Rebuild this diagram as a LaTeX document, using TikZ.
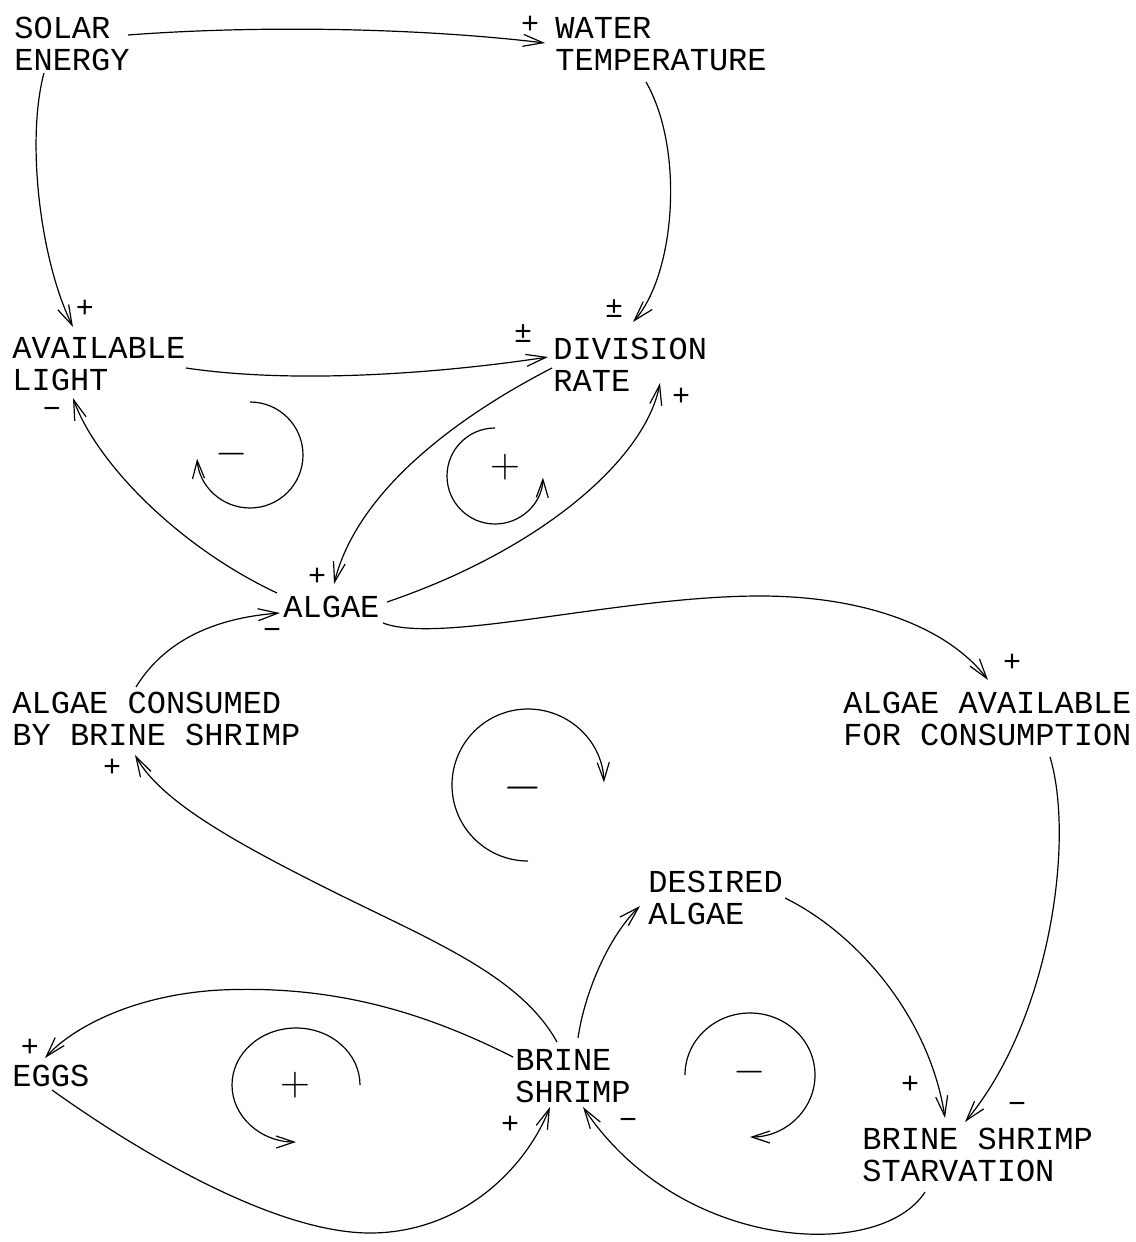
\documentclass[tikz,border=0pt]{standalone}
\usepackage{fontspec}
\usetikzlibrary{arrows.meta,calc}
\newfontfamily\plotfont{Liberation Mono}
\newcommand{\bsVarFont}{\plotfont\fontsize{16}{16}\selectfont}
\newcommand{\bsSignFont}{\plotfont\fontsize{15}{15}\selectfont}
\newcommand{\bsLoopFont}{\fontsize{22}{22}\selectfont}

\begin{document}
\begin{tikzpicture}[x=0.5pt,y=-0.5pt,
  bsvar/.style={anchor=north west, inner sep=0pt, align=left, font=\bsVarFont},
  sgn/.style={inner sep=0pt, font=\bsSignFont},
  loopsgn/.style={inner sep=0pt, font=\bsLoopFont},
  causal/.style={line width=0.6pt, -{Straight Barb[length=10pt,width=6pt]}},
  fbloop/.style={line width=0.6pt, -{Straight Barb[length=9pt,width=6pt]}}]
\useasboundingbox (0,0) rectangle (1135,1242);
\node[bsvar] (solar) at (14,17) {SOLAR\\ENERGY};
\node[bsvar] (water) at (555,17) {WATER\\TEMPERATURE};
\node[bsvar] (light) at (12,337) {AVAILABLE\\LIGHT};
\node[bsvar] (division) at (553,338) {DIVISION\\RATE};
\node[bsvar] (algae) at (283,596) {ALGAE};
\node[bsvar] (consumed) at (12,692) {ALGAE CONSUMED\\BY BRINE SHRIMP};
\node[bsvar] (available) at (843,692) {ALGAE AVAILABLE\\FOR CONSUMPTION};
\node[bsvar] (desired) at (648,871) {DESIRED\\ALGAE};
\node[bsvar] (eggs) at (12,1065) {EGGS};
\node[bsvar] (shrimp) at (515,1049) {BRINE\\SHRIMP};
\node[bsvar] (starvation) at (862,1128) {BRINE SHRIMP\\STARVATION};
\draw[causal] ($(solar.north west)+(114,18)$) .. controls (260,25) and (420,28) .. ($(water.north west)+(-10,26)$);
\draw[causal] ($(solar.north west)+(30,56)$) .. controls (26,140) and (40,260) .. ($(light.north west)+(61,-10)$);
\draw[causal] ($(water.north west)+(91,65)$) .. controls (685,150) and (675,275) .. ($(division.north west)+(80,-16)$);
\draw[causal] ($(light.north west)+(174,31)$) .. controls (300,385) and (450,372) .. ($(division.north west)+(-5,19)$);
\draw[causal] ($(division.north west)+(-1,30)$) .. controls (480,405) and (360,480) .. ($(algae.north west)+(51,-12)$);
\draw[causal] ($(algae.north west)+(104,6)$) .. controls (540,550) and (645,460) .. ($(division.north west)+(107,45)$);
\draw[causal] ($(algae.north west)+(-6,-3)$) .. controls (175,545) and (95,460) .. ($(light.north west)+(61,61)$);
\draw[causal] ($(consumed.north west)+(124,-5)$) .. controls (165,640) and (215,618) .. ($(algae.north west)+(-3,17)$);
\draw[causal] ($(algae.north west)+(100,27)$) .. controls (440,645) and (620,596) .. (760,596)
  .. controls (870,596) and (950,630) .. ($(available.north west)+(145,-12)$);
\draw[causal] ($(available.north west)+(207,65)$) .. controls (1075,840) and (1050,1020) .. ($(starvation.north west)+(103,-6)$);
\draw[causal] ($(desired.north west)+(137,27)$) .. controls (860,935) and (930,1020) .. ($(starvation.north west)+(83,-10)$);
\draw[causal] ($(shrimp.north west)+(63,-11)$) .. controls (585,990) and (610,935) .. ($(desired.north west)+(-8,35)$);
\draw[causal] ($(shrimp.north west)+(42,-7)$) .. controls (520,975) and (430,940) .. (330,890)
  .. controls (230,840) and (160,800) .. ($(consumed.north west)+(123,63)$);
\draw[causal] ($(shrimp.north west)+(-2,8)$) .. controls (420,1010) and (330,985) .. (220,990)
  .. controls (130,995) and (70,1030) .. ($(eggs.north west)+(33,-7)$);
\draw[causal] ($(eggs.north west)+(40,25)$) .. controls (150,1160) and (280,1233) .. (370,1233)
  .. controls (460,1233) and (525,1170) .. ($(shrimp.north west)+(35,58)$);
\draw[causal] ($(starvation.north west)+(63,64)$) .. controls (880,1262) and (680,1252) .. ($(shrimp.north west)+(68,58)$);
\node[sgn] (sWater) at (530,25) {+};
\node[sgn] (sLight) at (85,309) {+};
\node[sgn] (sDivTop) at (614,309) {±};
\node[sgn] (sDivLeft) at (523,334) {±};
\node[sgn] (sDivRight) at (681,397) {+};
\node[sgn] (sLightLow) at (52,413) {−};
\node[sgn] (sAlgaeTop) at (317,577) {+};
\node[sgn] (sAlgaeLeft) at (272,634) {−};
\node[sgn] (sConsumed) at (112,768) {+};
\node[sgn] (sAvailable) at (1012,663) {+};
\node[sgn] (sEggs) at (30,1048) {+};
\node[sgn] (sShrimpLeft) at (510,1125) {+};
\node[sgn] (sShrimpRight) at (628,1124) {−};
\node[sgn] (sStarveLeft) at (910,1085) {+};
\node[sgn] (sStarveRight) at (1017,1108) {−};
\draw[fbloop] (250,402) arc[start angle=-90, end angle=176, radius=53];
\node[loopsgn] (loopLight) at (232,454) {$-$};
\draw[fbloop] (495,428) arc[start angle=-90, end angle=-358, radius=48];
\node[loopsgn] (loopDivision) at (505,467) {$+$};
\draw[fbloop] (528,861) arc[start angle=90, end angle=358, radius=76];
\node[loopsgn, scale=1.2] (loopAlgae) at (523,788) {$-$};
\draw[fbloop] (360,1085) arc[start angle=0, end angle=-270, x radius=64, y radius=57];
\node[loopsgn] (loopEggs) at (295,1085) {$+$};
\draw[fbloop] (685,1075) arc[start angle=180, end angle=450, x radius=65, y radius=62];
\node[loopsgn] (loopStarve) at (750,1072) {$-$};
\end{tikzpicture}
\end{document}
